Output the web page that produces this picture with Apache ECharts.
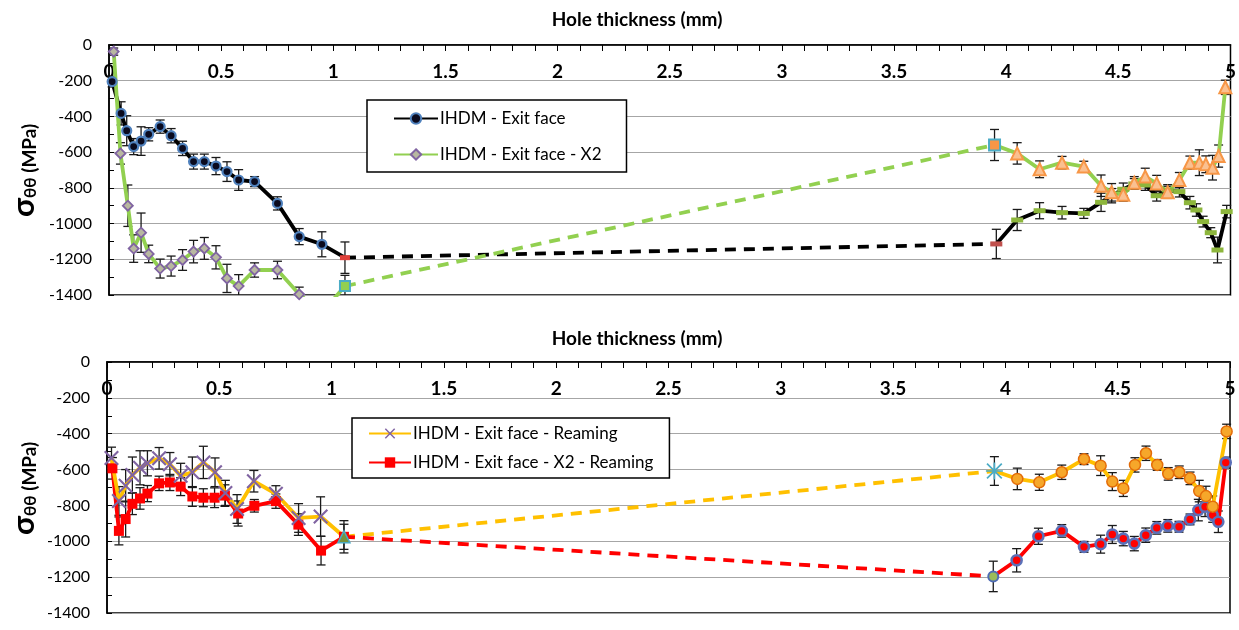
<!DOCTYPE html>
<html>
<head>
<meta charset="utf-8">
<script src="https://cdn.jsdelivr.net/npm/echarts@6/dist/echarts.min.js"></script>
<style>
html,body{margin:0;padding:0;background:#fff;}
#chart{width:1239px;height:630px;}
</style>
</head>
<body>
<div id="chart"></div>
<script>
// ---------- DATA ----------
const xTitle = 'Hole thickness (mm)';
const legendTop = ['IHDM - Exit face', 'IHDM - Exit face - X2'];
const legendBottom = ['IHDM - Exit face - Reaming', 'IHDM - Exit face - X2 - Reaming'];

// Top panel: IHDM - Exit face
const exitX_L = [0.014, 0.054, 0.079, 0.110, 0.143, 0.177, 0.228, 0.277, 0.328, 0.377, 0.425, 0.477, 0.526, 0.578, 0.649, 0.751, 0.848, 0.949, 1.052];
const exitY_L = [-205, -383, -480, -569, -538, -500, -457, -508, -579, -653, -653, -678, -709, -756, -765, -887, -1073, -1116, -1191];
const exitE_L = [30, 65, 84, 45, 80, 37, 37, 40, 40, 42, 42, 48, 55, 58, 28, 37, 45, 70, 88];
const exitX_R = [3.956, 4.049, 4.149, 4.249, 4.346, 4.423, 4.470, 4.522, 4.571, 4.620, 4.671, 4.720, 4.772, 4.819, 4.848, 4.878, 4.912, 4.942, 4.983];
const exitY_R = [-1114, -980, -928, -939, -943, -881, -844, -808, -778, -784, -844, -812, -821, -883, -924, -989, -1051, -1148, -933];
const exitE_R = [82, 59, 45, 35, 28, 51, 40, 35, 30, 30, 30, 30, 30, 35, 35, 30, 28, 72, 35];

// Top panel: IHDM - Exit face - X2
const x2X_L = [0.021, 0.051, 0.084, 0.110, 0.143, 0.177, 0.228, 0.277, 0.328, 0.377, 0.425, 0.477, 0.526, 0.578, 0.649, 0.751, 0.848, 0.949, 1.052];
const x2Y_L = [-37, -607, -900, -1140, -1051, -1170, -1252, -1238, -1204, -1157, -1139, -1189, -1307, -1350, -1260, -1260, -1396, -1500, -1350];
const x2E_L = [20, 60, 116, 77, 110, 49, 53, 56, 58, 63, 61, 65, 79, 64, 40, 49, 40, 60, 60];
const x2X_R = [3.948, 4.049, 4.149, 4.249, 4.346, 4.423, 4.470, 4.522, 4.571, 4.620, 4.671, 4.720, 4.772, 4.819, 4.861, 4.890, 4.920, 4.947, 4.977];
const x2Y_R = [-560, -607, -696, -659, -681, -788, -825, -838, -771, -737, -775, -825, -756, -659, -659, -668, -687, -622, -237];
const x2E_R = [87, 60, 47, 35, 30, 60, 49, 37, 34, 47, 45, 34, 42, 37, 72, 47, 69, 62, 40];

// Bottom panel: IHDM - Exit face - Reaming
const reamX_L = [0.020, 0.053, 0.083, 0.113, 0.147, 0.180, 0.232, 0.280, 0.328, 0.380, 0.429, 0.481, 0.527, 0.579, 0.654, 0.752, 0.853, 0.951, 1.055];
const reamY_L = [-535, -775, -690, -630, -590, -565, -537, -570, -635, -615, -560, -615, -730, -820, -665, -735, -870, -862, -975];
const reamE_L = [60, 80, 90, 100, 95, 70, 60, 65, 70, 85, 90, 80, 70, 80, 60, 45, 80, 110, 90];
const reamX_R = [3.951, 4.053, 4.151, 4.251, 4.350, 4.424, 4.476, 4.525, 4.577, 4.626, 4.676, 4.725, 4.774, 4.822, 4.863, 4.893, 4.923, 4.985];
const reamY_R = [-608, -652, -671, -615, -542, -578, -667, -705, -574, -509, -574, -624, -615, -649, -720, -748, -807, -387];
const reamE_R = [80, 60, 45, 40, 30, 55, 50, 45, 40, 40, 30, 35, 35, 35, 60, 55, 60, 40];

// Bottom panel: IHDM - Exit face - X2 - Reaming
const redX_L = [0.024, 0.053, 0.083, 0.113, 0.147, 0.180, 0.232, 0.280, 0.328, 0.380, 0.429, 0.479, 0.525, 0.584, 0.656, 0.752, 0.852, 0.953, 1.055];
const redY_L = [-593, -942, -876, -791, -761, -734, -677, -672, -695, -750, -757, -757, -745, -845, -802, -776, -907, -1052, -975];
const redE_L = [60, 78, 100, 60, 60, 45, 40, 45, 50, 55, 50, 55, 60, 70, 35, 40, 60, 80, 70];
const redX_R = [3.946, 4.050, 4.147, 4.251, 4.350, 4.424, 4.476, 4.525, 4.574, 4.625, 4.674, 4.723, 4.773, 4.822, 4.859, 4.889, 4.923, 4.948, 4.981];
const redY_R = [-1196, -1106, -972, -942, -1031, -1016, -962, -985, -1013, -966, -925, -914, -919, -878, -826, -807, -854, -891, -561];
const redE_R = [85, 65, 45, 35, 30, 50, 50, 40, 40, 40, 35, 35, 30, 30, 60, 55, 40, 60, 30];

// ---------- CHART ----------
const FONT = 'Lato, "Liberation Sans", sans-serif';
const Y_MIN = -1400, Y_MAX = 0;
const LW = 3.8;
const X_SYMBOL = 'path://M1,0 L5,4 L9,0 L10,1 L6,5 L10,9 L9,10 L5,6 L1,10 L0,9 L4,5 L0,1 Z';
const STAR_SYMBOL = 'path://M4.5,0 H5.5 V4.5 H10 V5.5 H5.5 V10 H4.5 V5.5 H0 V4.5 H4.5 Z M1,0.3 L5,4.3 L9,0.3 L9.7,1 L5.7,5 L9.7,9 L9,9.7 L5,5.7 L1,9.7 L0.3,9 L4.3,5 L0.3,1 Z';

function pts(xs, ys) { return xs.map((x, i) => [x, ys[i]]); }
function errs(xs, ys, es) { return xs.map((x, i) => [x, ys[i], es[i]]); }

function errorSeries(gi, data) {
  return {
    type: 'custom', xAxisIndex: gi, yAxisIndex: gi, z: 1, silent: true,
    encode: { x: 0, y: 1 },
    data: data,
    renderItem: function (params, api) {
      const x = api.value(0), y = api.value(1), e = api.value(2);
      let hi = Math.min(y + e, Y_MAX), lo = Math.max(y - e, Y_MIN);
      if (hi <= lo) return null;
      const p1 = api.coord([x, hi]), p2 = api.coord([x, lo]);
      const w = 4.5;
      const style = { stroke: '#1a1a1a', lineWidth: 1.3 };
      const ch = [{ type: 'line', shape: { x1: p1[0], y1: p1[1], x2: p2[0], y2: p2[1] }, style: style }];
      if (y + e <= Y_MAX) ch.push({ type: 'line', shape: { x1: p1[0] - w, y1: p1[1], x2: p1[0] + w, y2: p1[1] }, style: style });
      if (y - e >= Y_MIN) ch.push({ type: 'line', shape: { x1: p2[0] - w, y1: p2[1], x2: p2[0] + w, y2: p2[1] }, style: style });
      return { type: 'group', children: ch };
    }
  };
}

function lineSeries(name, gi, data, color, symbol, size, itemStyle) {
  return {
    name: name, type: 'line', xAxisIndex: gi, yAxisIndex: gi, z: 3,
    data: data, symbol: symbol, symbolSize: size, showSymbol: true,
    lineStyle: { color: color, width: LW },
    itemStyle: itemStyle, color: color,
    emphasis: { disabled: true }
  };
}
function gapSeries(gi, a, b, color) {
  return {
    name: '_gap', type: 'line', xAxisIndex: gi, yAxisIndex: gi, z: 2,
    data: [a, b], symbol: 'none',
    lineStyle: { color: color, width: LW, type: [11, 8] }
  };
}

function withEnd(data, idx, symbol, size, itemStyle) {
  const d = data.slice();
  d[idx] = { value: data[idx], symbol: symbol, symbolSize: size, itemStyle: itemStyle };
  return d;
}

const exitL = pts(exitX_L, exitY_L), exitR = pts(exitX_R, exitY_R);
const x2L = pts(x2X_L, x2Y_L), x2R = pts(x2X_R, x2Y_R);
const reamL = pts(reamX_L, reamY_L), reamR = pts(reamX_R, reamY_R);
const redL = pts(redX_L, redY_L), redR = pts(redX_R, redY_R);

function xAxis(gi) {
  return {
    type: 'value', gridIndex: gi, min: 0, max: 5, interval: 0.5, position: 'top',
    axisLine: { onZero: false, lineStyle: { color: '#000', width: 1.5 } },
    axisTick: { inside: true, length: 6, lineStyle: { color: '#000' } },
    minorTick: { show: true, splitNumber: 5, length: 6, lineStyle: { color: '#000' } },
    axisLabel: { inside: true, margin: 17, fontWeight: 'bold', fontSize: 19, color: '#000', fontFamily: FONT },
    splitLine: { show: false }
  };
}
function yAxis(gi) {
  return {
    type: 'value', gridIndex: gi, min: Y_MIN, max: Y_MAX, interval: 200,
    axisLine: { onZero: false, lineStyle: { color: '#000', width: 1.5 } },
    axisTick: { inside: true, length: 5, lineStyle: { color: '#000' } },
    minorTick: { show: true, splitNumber: 2, length: 5, lineStyle: { color: '#000' } },
    axisLabel: { margin: 17, fontSize: 16, color: '#000', fontFamily: FONT, formatter: v => String(v) },
    splitLine: { show: true, lineStyle: { color: '#A6A6A6', width: 1.2 } }
  };
}

function legend(left, top, data, padding, gap, iw) {
  return {
    left: left, top: top, orient: 'vertical', data: data, selectedMode: false,
    backgroundColor: '#fff', borderColor: '#000', borderWidth: 1.5,
    padding: padding, itemGap: gap, itemWidth: iw, itemHeight: 13,
    textStyle: { fontSize: 17, color: '#000', fontFamily: FONT, padding: [0, 0, 0, -3] }
  };
}

function yName(cy) {
  return {
    type: 'text', rotation: Math.PI / 2, x: 24, y: cy + 52,
    style: {
      text: '{s|σ}{t|θθ}{m| (MPa)}',
      rich: {
        s: { fontSize: 31, fontWeight: 'bold', fontFamily: FONT, fill: '#000', verticalAlign: 'bottom' },
        t: { fontSize: 17, fontWeight: 'bold', fontFamily: FONT, fill: '#000', verticalAlign: 'bottom' },
        m: { fontSize: 19, fontWeight: 'bold', fontFamily: FONT, fill: '#000', verticalAlign: 'bottom' }
      },
      textVerticalAlign: 'middle', textAlign: 'left'
    }
  };
}

const chart = echarts.init(document.getElementById('chart'), null, { renderer: 'canvas' });
const option = {
  animation: false,
  backgroundColor: '#fff',
  grid: [
    { left: 109, right: 7, top: 45, height: 250, show: true, borderColor: '#000', borderWidth: 1.5, containLabel: false },
    { left: 107, right: 9, top: 362, height: 251, show: true, borderColor: '#000', borderWidth: 1.5, containLabel: false }
  ],
  xAxis: [xAxis(0), xAxis(1)],
  yAxis: [yAxis(0), yAxis(1)],
  legend: [
    legend(367, 100, legendTop, [10, 25, 9, 26], 19, 44),
    legend(352, 418, legendBottom, [7, 16, 7, 16], 12, 42)
  ],
  graphic: [
    { type: 'text', style: { text: xTitle, font: 'bold 19px ' + FONT, fill: '#000', x: 637, y: 20, textAlign: 'center', textVerticalAlign: 'middle' } },
    { type: 'text', style: { text: xTitle, font: 'bold 19px ' + FONT, fill: '#000', x: 637, y: 339, textAlign: 'center', textVerticalAlign: 'middle' } },
    yName(165),
    yName(483)
  ],
  series: [
    errorSeries(0, errs(exitX_L, exitY_L, exitE_L).concat(errs(exitX_R, exitY_R, exitE_R), errs(x2X_L, x2Y_L, x2E_L), errs(x2X_R, x2Y_R, x2E_R))),
    gapSeries(0, exitL[exitL.length - 1], exitR[0], '#000'),
    gapSeries(0, x2L[x2L.length - 1], x2R[0], '#92D050'),
    lineSeries(legendTop[0], 0, withEnd(exitL, exitL.length - 1, 'rect', [10, 5], { color: '#E0403A', borderWidth: 0 }),
      '#000', 'circle', 9, { color: '#0A0A1E', borderColor: '#4F81BD', borderWidth: 2.2 }),
    lineSeries('exit_r', 0, withEnd(exitR, 0, 'rect', [12, 5], { color: '#C0504D', borderWidth: 0 }),
      '#000', 'rect', [12, 5], { color: '#8DB63C', borderWidth: 0 }),
    lineSeries(legendTop[1], 0, withEnd(x2L, x2L.length - 1, 'rect', 10, { color: '#92D050', borderColor: '#4BACC6', borderWidth: 2 }),
      '#92D050', 'diamond', 10, { color: '#B8B8A0', borderColor: '#8064A2', borderWidth: 1.8 }),
    lineSeries('x2_r', 0, withEnd(x2R, 0, 'rect', 11, { color: '#F79646', borderColor: '#4BACC6', borderWidth: 2 }),
      '#92D050', 'triangle', 12, { color: '#FAC090', borderColor: '#F79646', borderWidth: 2 }),

    errorSeries(1, errs(reamX_L, reamY_L, reamE_L).concat(errs(reamX_R, reamY_R, reamE_R), errs(redX_L, redY_L, redE_L), errs(redX_R, redY_R, redE_R))),
    gapSeries(1, reamL[reamL.length - 1], reamR[0], '#FFC000'),
    gapSeries(1, redL[redL.length - 1], redR[0], '#FF0000'),
    lineSeries('red_r', 1, withEnd(redR, 0, 'circle', 10, { color: '#9BBB59', borderColor: '#4F6BB5', borderWidth: 2 }),
      '#FF0000', 'circle', 10, { color: '#FF0000', borderColor: '#5B70B8', borderWidth: 2.6 }),
    lineSeries(legendBottom[1], 1, redL,
      '#FF0000', 'rect', 10, { color: '#FF0000', borderWidth: 0 }),
    lineSeries(legendBottom[0], 1, withEnd(reamL, reamL.length - 1, 'triangle', 12, { color: '#77933C', borderColor: '#4BACC6', borderWidth: 1.5 }),
      '#FFC000', X_SYMBOL, 15, { color: '#8064A2', borderWidth: 0 }),
    lineSeries('ream_r', 1, withEnd(reamR, 0, STAR_SYMBOL, 17, { color: '#4BACC6', borderWidth: 0 }),
      '#FFC000', 'circle', 11, { color: '#F6A72A', borderColor: '#E36C09', borderWidth: 1.5 })
  ]
};
chart.setOption(option);
</script>
</body>
</html>
